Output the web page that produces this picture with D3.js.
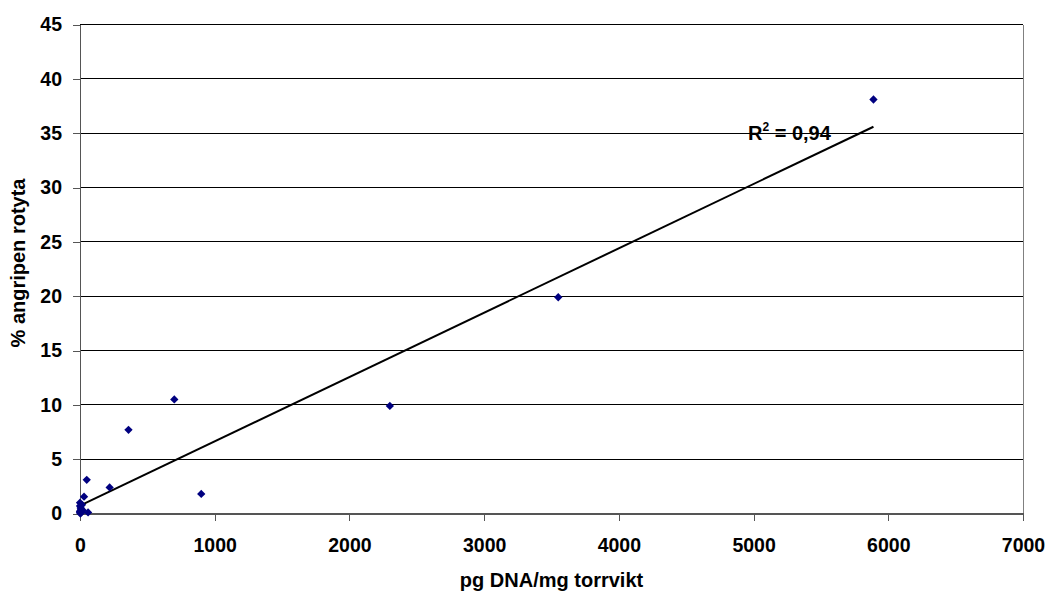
<!DOCTYPE html>
<html><head><meta charset="utf-8">
<script src="https://cdn.jsdelivr.net/npm/d3@7"></script>
<style>body{margin:0;background:#fff}svg{display:block}text{font-family:"Liberation Sans",Arial,sans-serif;font-weight:bold}</style>
</head><body>
<script>
const xValues = [5890,3550,2300,700,360,900,220,50,30,0,5,0,10,60,20,0,15,2,8,3,12,0];
const yValues = [38.1,19.9,9.9,10.5,7.7,1.8,2.4,3.1,1.55,1.0,0.5,0.2,0.1,0.1,0.3,0.7,0.8,0.2,0.4,0.0,0.3,0.1];
const xTicks = [0,1000,2000,3000,4000,5000,6000,7000];
const yTicks = [0,5,10,15,20,25,30,35,40,45];
const xTitle = "pg DNA/mg torrvikt";
const yTitle = "% angripen rotyta";
const r2Label = "0,94";

const W=1050,H=592;
const FS=19.5;
const svg=d3.select("body").append("svg").attr("width",W).attr("height",H);
const L=80,R=1023,T=24.5,B=513.5;
const x=d3.scaleLinear().domain([0,7000]).range([L,R]);
const y=d3.scaleLinear().domain([0,45]).range([B,T]);

// gridlines
svg.append("g").selectAll("line").data(yTicks.filter(d=>d>0)).join("line")
 .attr("x1",L).attr("x2",R).attr("y1",d=>y(d)).attr("y2",d=>y(d))
 .attr("stroke","#000").attr("stroke-width",1).attr("shape-rendering","crispEdges");
// right border
svg.append("line").attr("x1",R).attr("x2",R).attr("y1",T).attr("y2",B).attr("stroke","#808080").attr("shape-rendering","crispEdges");

const fmt=d3.format("d");
const yAxis=svg.append("g").attr("transform",`translate(${L},0)`)
 .call(d3.axisLeft(y).tickValues(yTicks).tickFormat(fmt).tickSize(7).tickPadding(11).tickSizeOuter(0));
const xAxis=svg.append("g").attr("transform",`translate(0,${B})`)
 .call(d3.axisBottom(x).tickValues(xTicks).tickFormat(fmt).tickSize(7).tickPadding(17.5).tickSizeOuter(0));
[yAxis,xAxis].forEach(a=>{
 a.select(".domain").attr("stroke","#555").attr("stroke-width",1.5).attr("shape-rendering","crispEdges");
 a.selectAll(".tick line").attr("stroke","#555").attr("shape-rendering","crispEdges");
 a.selectAll("text").attr("font-size",FS).attr("fill","#000").attr("font-family","Liberation Sans, Arial, sans-serif").attr("font-weight","bold");
});

// regression
const n=xValues.length;
const mx=d3.mean(xValues),my=d3.mean(yValues);
let sxy=0,sxx=0;
for(let i=0;i<n;i++){sxy+=(xValues[i]-mx)*(yValues[i]-my);sxx+=(xValues[i]-mx)**2;}
const slope=sxy/sxx,inter=my-slope*mx;
const x0=d3.min(xValues),x1=d3.max(xValues);
svg.append("line").attr("x1",x(x0)).attr("y1",y(inter+slope*x0)).attr("x2",x(x1)).attr("y2",y(inter+slope*x1))
 .attr("stroke","#000").attr("stroke-width",2);

// points
const pts=xValues.map((v,i)=>[v,yValues[i]]);
svg.append("g").selectAll("path").data(pts).join("path")
 .attr("d",d3.symbol(d3.symbolDiamond2,44))
 .attr("transform",d=>`translate(${x(d[0])},${y(d[1])})`)
 .attr("fill","#000080");

// R2 label
const t=svg.append("text").attr("x",748).attr("y",140).attr("font-size",20).attr("fill","#000");
t.append("tspan").text("R");
t.append("tspan").text("2").attr("font-size",12).attr("dy",-9);
t.append("tspan").text(" = "+r2Label).attr("dy",9);

svg.append("text").attr("x",(L+R)/2).attr("y",587).attr("text-anchor","middle").attr("font-size",20).text(xTitle);
svg.append("text").attr("transform",`translate(25,263) rotate(-90)`).attr("text-anchor","middle").attr("font-size",20).text(yTitle);
</script>
</body></html>
